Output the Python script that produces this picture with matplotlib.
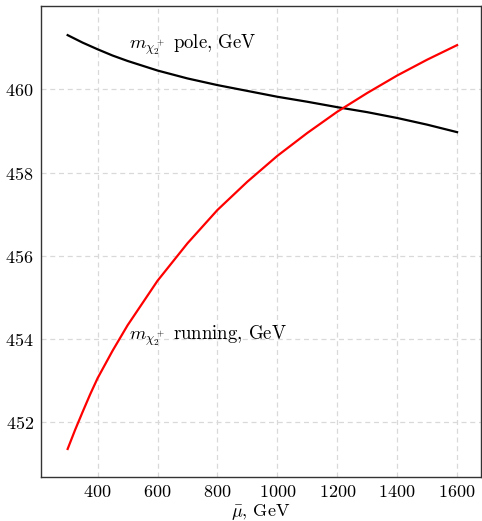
import matplotlib
matplotlib.use("Agg")
import matplotlib.pyplot as plt

mu = [300, 325, 350, 375, 400, 450, 500, 600, 700, 800, 900, 1000, 1100, 1200, 1300, 1400, 1500, 1600]
m_pole = [461.30, 461.21, 461.12, 461.04, 460.96, 460.81, 460.68, 460.45, 460.26, 460.10, 459.96,
          459.82, 459.70, 459.57, 459.45, 459.31, 459.15, 458.97]
m_running = [451.36, 451.82, 452.25, 452.67, 453.06, 453.72, 454.33, 455.40, 456.30, 457.10, 457.78,
             458.40, 458.95, 459.46, 459.91, 460.33, 460.71, 461.06]
xticks = [400, 600, 800, 1000, 1200, 1400, 1600]
yticks = [452, 454, 456, 458, 460]

plt.rcParams['font.family'] = 'serif'
plt.rcParams['font.serif'] = ['cmr10']
plt.rcParams['mathtext.fontset'] = 'cm'
plt.rcParams['axes.formatter.use_mathtext'] = True
plt.rcParams['font.size'] = 13

fig = plt.figure(figsize=(4.82, 5.21), dpi=100)
ax = fig.add_axes([0.0844, 0.0839, 0.9136, 0.9046])

ax.plot(mu, m_pole, color='black', lw=1.6, zorder=3)
ax.plot(mu, m_running, color='#ff0000', lw=1.6, zorder=3)

ax.set_xlim(210, 1680)
ax.set_ylim(450.68, 462.0)
ax.set_xticks(xticks)
ax.set_yticks(yticks)
ax.tick_params(length=0, pad=5)
ax.grid(True, color='#d9d9d9', ls=(0, (4, 3)), lw=0.9)
ax.set_axisbelow(True)
for s in ax.spines.values():
    s.set_linewidth(1.0)
    s.set_color('#333333')

ax.set_xlabel(r'$\bar{\mu}$, GeV', labelpad=1)
ax.text(505, 461.08, r'$m_{\chi_2^+}$ pole, GeV', fontsize=13.5, va='center', ha='left')
ax.text(505, 454.08, r'$m_{\chi_2^+}$ running, GeV', fontsize=13.5, va='center', ha='left')

fig.savefig('out.png', dpi=100)
